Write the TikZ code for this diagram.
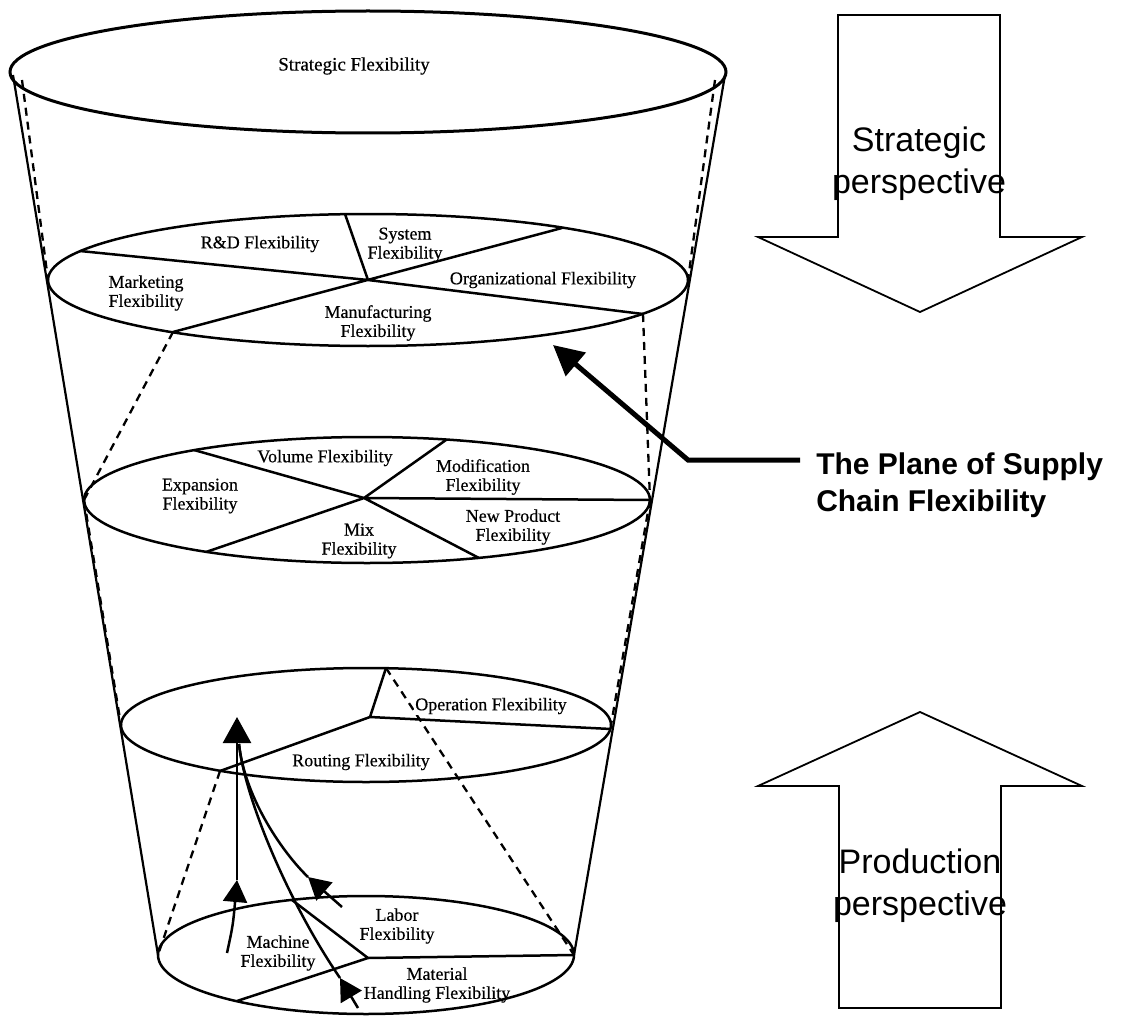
\documentclass[tikz,border=0pt]{standalone}
\usepackage{fontspec}
\setmainfont{Liberation Serif}
\newfontfamily\labfont{Liberation Serif}[FakeBold=0.4]
\newfontfamily\arialfont{Liberation Sans}
\usetikzlibrary{arrows.meta}

\begin{document}
\begin{tikzpicture}[x=1pt,y=-1pt,line width=2.5pt,
  dashed/.style={dash pattern=on 8pt off 6pt,line width=2.3pt},
  lab/.style={font=\labfont\fontsize{18}{19}\selectfont,align=center,inner sep=1pt},
  persp/.style={font=\arialfont\fontsize{34}{42}\selectfont,align=center,inner sep=0pt},
  midtip/.style={-{Triangle[width=24pt,length=22pt]}},
  bigtip/.style={-{Triangle[width=28pt,length=26pt]}}]
  \useasboundingbox (0,0) rectangle (1122,1022);
  % 顶层
  \begin{scope}[shift={(368,72)}]
    \draw[line width=3pt] (0,0) ellipse [x radius=358,y radius=61];
    \node[lab,font=\labfont\fontsize{19}{20}\selectfont] (strat) at (-14,-6) {Strategic Flexibility};
    \coordinate (c1l) at (-355,3); \coordinate (c1r) at (357,3);
    \coordinate (d1l) at (-346,8); \coordinate (d1r) at (347,8);
  \end{scope}
  % 第二层
  \begin{scope}[shift={(368,280)}]
    \draw (0,0) ellipse [x radius=320,y radius=66];
    \draw (-195,52)--(194,-52) (-288,-29)--(0,0)--(275,34) (-23,-66)--(0,0);
    \node[lab] (rd) at (-108,-36) {R\&D Flexibility};
    \node[lab] (sys) at (37,-35) {System\\Flexibility};
    \node[lab] (mkt) at (-222,13) {Marketing\\Flexibility};
    \node[lab] (org) at (175,0) {Organizational Flexibility};
    \node[lab] (mfg) at (10,43) {Manufacturing\\Flexibility};
    \coordinate (e2l) at (-320,0); \coordinate (e2r) at (320,0);
    \coordinate (e2a) at (-195,52); \coordinate (e2b) at (275,34);
  \end{scope}
  % 第三层
  \begin{scope}[shift={(367,500)}]
    \draw (0,0) ellipse [x radius=283,y radius=63];
    \draw (-173,-50)--(-3,-2)--(112,58) (-161,52)--(-3,-2)--(79,-60) (-3,-2)--(283,0);
    \node[lab] (vol) at (-42,-42) {Volume Flexibility};
    \node[lab] (mod) at (116,-23) {Modification\\Flexibility};
    \node[lab] (exp) at (-167,-4) {Expansion\\Flexibility};
    \node[lab] (mix) at (-8,41) {Mix\\Flexibility};
    \node[lab] (npd) at (146,27) {New Product\\Flexibility};
    \coordinate (e3l) at (-283,0); \coordinate (e3r) at (283,0);
  \end{scope}
  % 第四层
  \begin{scope}[shift={(366,725)}]
    \draw (0,0) ellipse [x radius=245,y radius=57];
    \draw (20,-57)--(4,-8)--(245,4) (4,-8)--(-146,46);
    \node[lab] (rout) at (-5,37) {Routing Flexibility};
    \coordinate (e4l) at (-245,0); \coordinate (e4r) at (245,0);
    \coordinate (e4t) at (20,-57); \coordinate (e4d) at (-146,46);
  \end{scope}
  % 底层
  \begin{scope}[shift={(366,955)}]
    \draw (0,0) ellipse [x radius=208,y radius=59];
    \draw (-74,-55)--(2,3)--(208,0) (2,3)--(-129,46);
    \node[lab] (lab) at (31,-29) {Labor\\Flexibility};
    \node[lab] (mach) at (-88,-2) {Machine\\Flexibility};
    \node[lab] (mat) at (71,30) {Material\\Handling Flexibility};
    \coordinate (e5l) at (-208,0); \coordinate (e5r) at (208,0);
  \end{scope}
  % 圆锥与虚线
  \draw[line width=2.2pt] (c1l)--(e5l) (c1r)--(e5r);
  \draw[dashed] (d1l)--(e2l) (d1r)--(e2r);
  \draw[dashed] (e2a)--(e3l) (e2b)--(e3r);
  \draw[dashed] (e3l)--(e4l) (e3r)--(e4r);
  \draw[dashed] (e4d)--(e5l) (e4t)--(e5r);
  \node[lab,fill=white] (oper) at (491,706) {Operation Flexibility};
  % 生产层的箭头
  \coordinate (pk) at (237,717); \coordinate (pj) at (239,744);
  \coordinate (mt) at (227,953); \coordinate (mh) at (237,880);
  \coordinate (lt) at (342,907); \coordinate (lh) at (308,877);
  \coordinate (ht) at (358,1008); \coordinate (hh) at (340,978);
  \draw[midtip] (mt) .. controls (233,925) .. (mh);
  \draw[bigtip] (mh)--(pk);
  \draw[midtip] (lt)--(lh);
  \draw (lh) .. controls (285,855) and (245,800) .. (pj);
  \draw[midtip] (ht)--(hh);
  \draw (hh) .. controls (290,905) and (245,800) .. (pj);
  % 供应链柔性平面
  \coordinate (pe) at (800,460); \coordinate (pb) at (688,460); \coordinate (pt) at (553,345);
  \draw[line width=5pt,-{Triangle[width=30pt,length=30pt]}] (pe)--(pb)--(pt);
  \node[font=\arialfont\bfseries\fontsize{30}{37}\selectfont,align=left,inner sep=0pt,anchor=west]
    (plane) at (815,485) {The Plane of Supply\\Chain Flexibility};
  % 右侧大箭头
  \draw[line width=1.8pt] (838,15)--(1000,15)--(1000,237)--(1082,237)--(920,312)--(758,237)--(838,237)--cycle;
  \node[persp] (sp) at (919,164) {Strategic\\perspective};
  \draw[line width=1.8pt] (839,1008)--(1001,1008)--(1001,786)--(1082,786)--(920,712)--(758,786)--(839,786)--cycle;
  \node[persp] (pp) at (920,886) {Production\\perspective};
\end{tikzpicture}
\end{document}
